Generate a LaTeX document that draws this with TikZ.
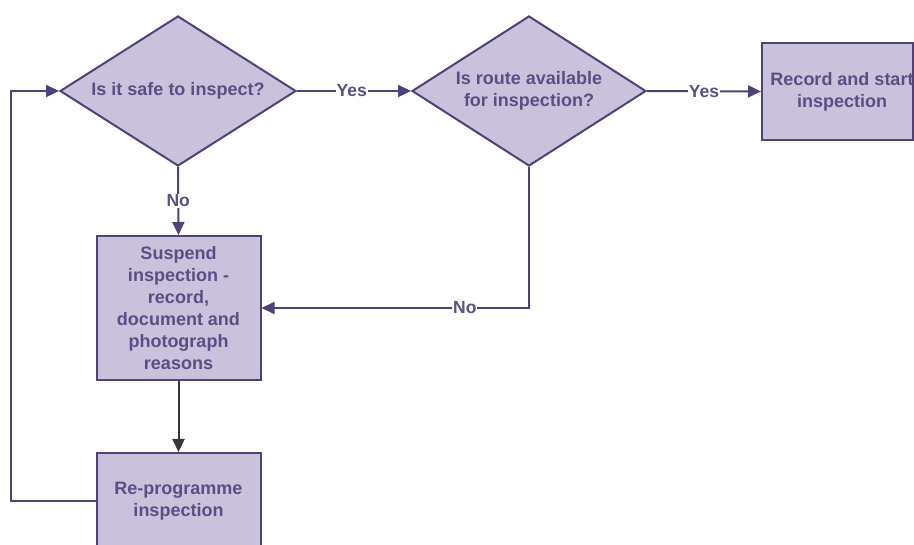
\documentclass[tikz,border=0pt]{standalone}
\usepackage{fontspec}
\setmainfont{Liberation Sans}
\usetikzlibrary{shapes.geometric,arrows.meta}
\definecolor{boxfill}{RGB}{202,193,221}
\definecolor{edge}{RGB}{80,66,116}
\definecolor{txt}{RGB}{92,78,132}
\definecolor{darkline}{RGB}{55,55,55}
\tikzset{
  basefont/.style={text=txt,align=center,font=\bfseries\fontsize{18}{22}\selectfont},
  base/.style={fill=boxfill,draw=edge,line width=2pt,basefont},
  decision/.style={base,diamond,aspect=1.57,inner sep=1pt},
  procbox/.style={base,rectangle,inner sep=0pt},
  conn/.style={draw=edge,line width=2pt,-{Triangle[length=13pt,width=12pt]}},
  darkconn/.style={draw=darkline,line width=2pt,-{Triangle[length=13pt,width=12pt]}},
  lbl/.style={fill=white,text=txt,inner sep=1pt,font=\bfseries\fontsize{17.5}{20}\selectfont}
}
\begin{document}
\begin{tikzpicture}[x=1pt,y=-1pt]
\useasboundingbox[fill=white] (0,0) rectangle (914,545);
\node[decision,minimum width=236pt,minimum height=150pt] (d1) at (178,91) {Is it safe to inspect?};
\node[decision,minimum width=234pt,minimum height=150pt] (d2) at (529,91) {Is route available\\for inspection?};
\node[procbox,minimum width=151pt,minimum height=97pt,
  label={[basefont,xshift=4.5pt,inner sep=0pt]center:{Record and start\\inspection}}] (rec) at (837.5,91.5) {};
\node[procbox,minimum width=164pt,minimum height=144pt] (sus) at (178.5,308) {Suspend\\inspection -\\record,\\document and\\photograph\\reasons};
\node[procbox,minimum width=164pt,minimum height=96pt] (rep) at (178.5,501) {Re-programme\\inspection};
\coordinate (lp) at (11,501);
\draw[conn] (d1.east) -- node[lbl,pos=0.48]{Yes} (d2.west);
\draw[conn] (d2.east) -- node[lbl,pos=0.5]{Yes} (rec.west);
\draw[conn] (d1.south) -- node[lbl,pos=0.5]{No} (sus.north);
\draw[conn] (d2.south) |- node[lbl,pos=0.62]{No} (sus.east);
\draw[darkconn] (sus.south) -- (rep.north);
\draw[conn] (rep.west) -- (lp) |- (d1.west);
\end{tikzpicture}
\end{document}
